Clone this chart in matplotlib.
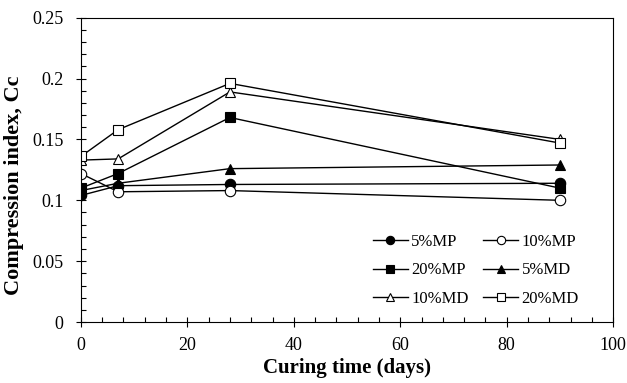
import matplotlib
matplotlib.use("Agg")
import matplotlib.pyplot as plt
from matplotlib.ticker import MultipleLocator

plt.rcParams.update({
    "font.family": "Liberation Serif",
    "font.size": 13,
})

# curing time (days)
days = [0, 7, 28, 90]

# compression index per mix
mp5 = [0.104, 0.112, 0.113, 0.114]
mp10 = [0.122, 0.107, 0.108, 0.100]
mp20 = [0.110, 0.122, 0.168, 0.110]
md5 = [0.108, 0.114, 0.126, 0.129]
md10 = [0.133, 0.134, 0.189, 0.150]
md20 = [0.136, 0.158, 0.196, 0.147]

labels = ["5%MP", "10%MP", "20%MP", "5%MD", "10%MD", "20%MD"]

fig = plt.figure(figsize=(6.27, 3.83), dpi=100)
ax = fig.add_axes([0.129, 0.159, 0.849, 0.795])

styles = [
    (mp5, "o", "black"),
    (mp10, "o", "white"),
    (mp20, "s", "black"),
    (md5, "^", "black"),
    (md10, "^", "white"),
    (md20, "s", "white"),
]

handles = []
for (vals, mk, fc), name in zip(styles, labels):
    h, = ax.plot(days, vals, marker=mk, markerfacecolor=fc, markeredgecolor="black",
                 color="black", linewidth=1, markersize=7.5, markeredgewidth=0.8, label=name)
    handles.append(h)

ax.set_xlim(0, 100)
ax.set_ylim(0, 0.25)
ax.xaxis.set_major_locator(MultipleLocator(20))
ax.xaxis.set_minor_locator(MultipleLocator(4))
ax.yaxis.set_minor_locator(MultipleLocator(0.01))
ax.set_yticks([0, 0.05, 0.1, 0.15, 0.2, 0.25])
ax.set_yticklabels(["0", "0.05", "0.1", "0.15", "0.2", "0.25"])
ax.tick_params(which="major", direction="inout", length=7.2, width=0.8, labelsize=13)
ax.tick_params(which="minor", direction="in", length=3.6, width=0.8)
ax.tick_params(axis="y", pad=9)
ax.tick_params(axis="x", pad=7)

ax.set_xlabel("Curing time (days)", fontweight="bold", fontsize=15, labelpad=3)
ax.set_ylabel("Compression index, Cc", fontweight="bold", fontsize=16)
ax.yaxis.set_label_coords(-0.107, 0.45)

order = [0, 2, 4, 1, 3, 5]
ax.legend([handles[i] for i in order], [labels[i] for i in order], ncol=2,
          frameon=False, loc="lower right", bbox_to_anchor=(579 / 627, 1 - 307 / 383),
          bbox_transform=fig.transFigure, borderpad=0, borderaxespad=0,
          fontsize=12, handlelength=2.1, columnspacing=0.9, labelspacing=0.75,
          handletextpad=0.2, markerscale=0.8)

fig.savefig("out.png", dpi=100)
